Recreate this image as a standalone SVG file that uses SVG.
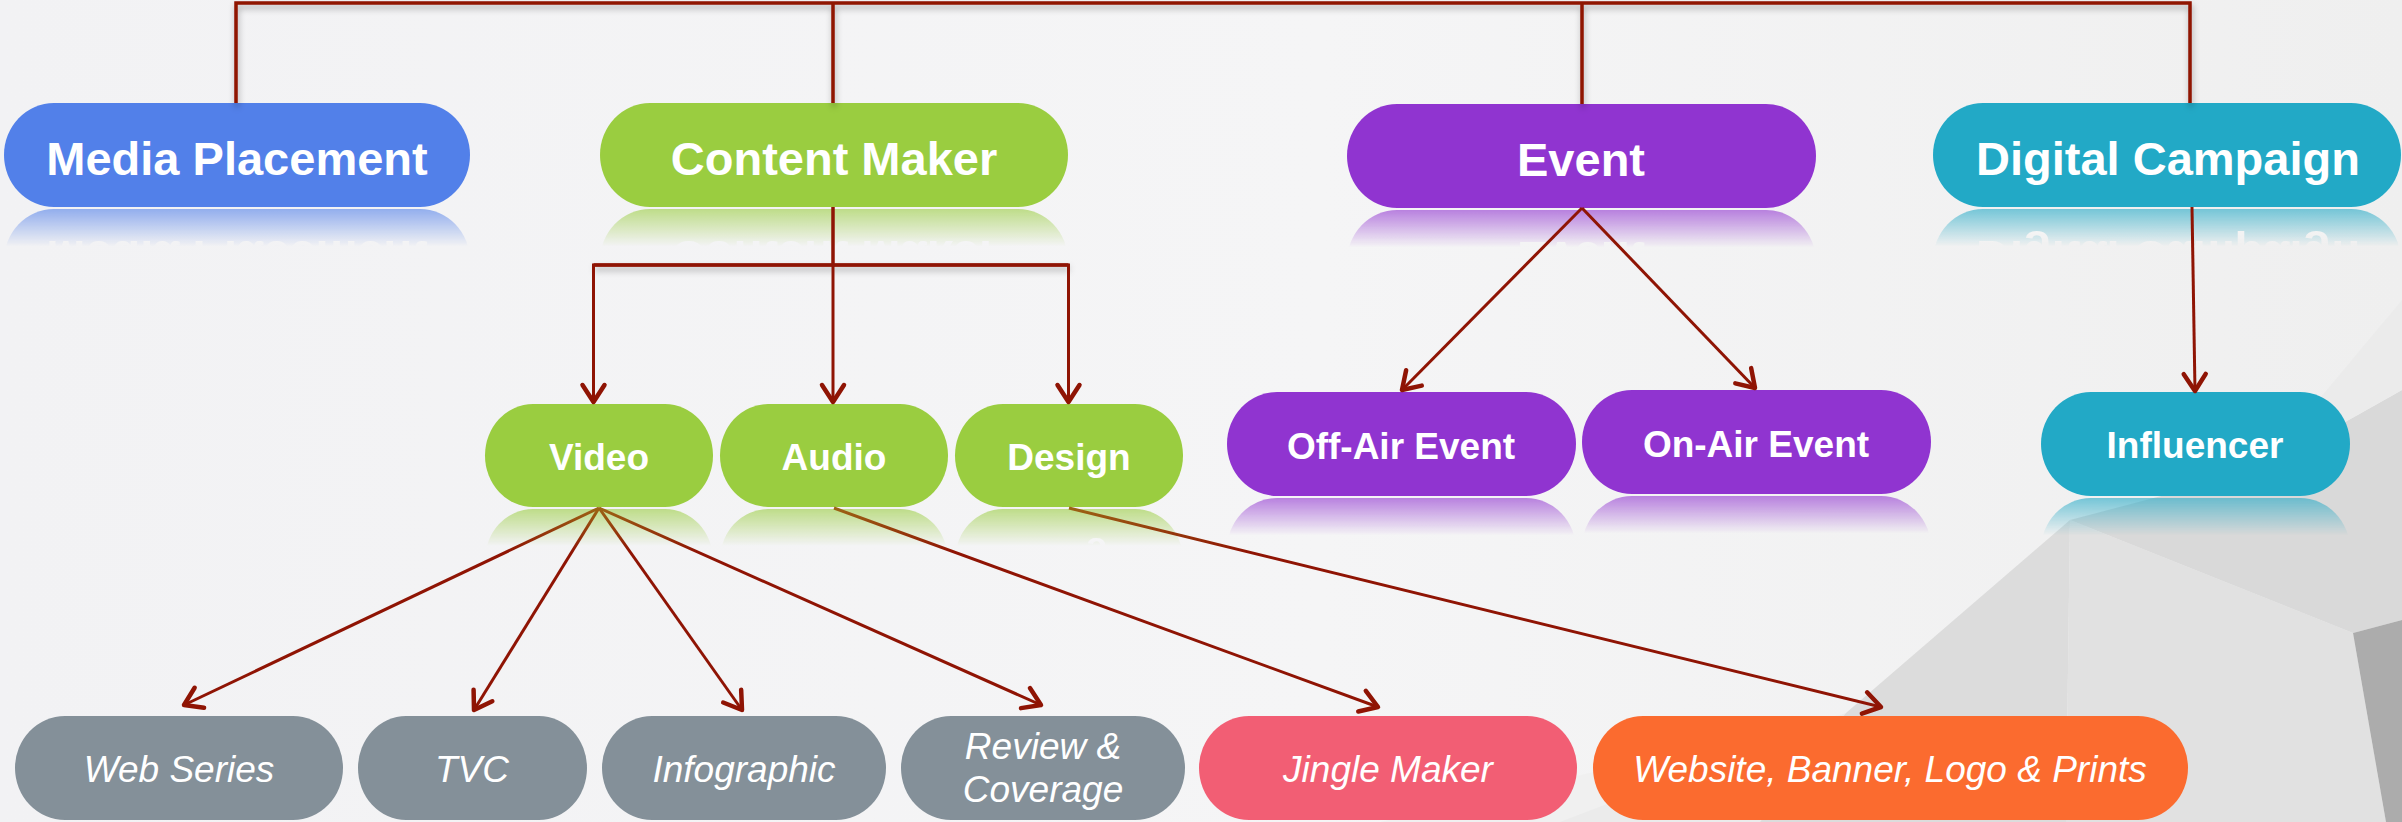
<svg xmlns="http://www.w3.org/2000/svg" xmlns:xlink="http://www.w3.org/1999/xlink" width="2402" height="822" viewBox="0 0 2402 822">
  <defs>
    <style>
      .pill-blue { fill: #5280E9; }
      .pill-green { fill: #9ACD40; }
      .pill-purple { fill: #9034D0; }
      .pill-teal { fill: #22A9C6; }
      .pill-gray { fill: #849099; }
      .pill-pink { fill: #F25E74; }
      .pill-orange { fill: #FB6B2F; }
      .t-main { font-family: "Liberation Sans", Arial, sans-serif; font-weight: bold; font-size: 47px; fill: #ffffff; text-anchor: middle; }
      .t-sub { font-family: "Liberation Sans", Arial, sans-serif; font-weight: bold; font-size: 37px; fill: #ffffff; text-anchor: middle; }
      .t-leaf { font-family: "Liberation Sans", Arial, sans-serif; font-style: italic; font-size: 37px; fill: #ffffff; text-anchor: middle; }
      .bus { fill: none; stroke: #8f1404; stroke-width: 3.5; }
      .link { fill: none; stroke: #8f1404; stroke-width: 3; marker-end: url(#arrow); }
      .link-warm { fill: none; stroke: url(#warmStroke); stroke-width: 3; marker-end: url(#arrow); }
    </style>

    <!-- open V arrowhead -->
    <marker id="arrow" markerUnits="userSpaceOnUse" markerWidth="32" markerHeight="32" viewBox="-22 -16 26 32" refX="0" refY="0" orient="auto">
      <path d="M-17,-11 L0,0 L-17,11" fill="none" stroke="#8f1404" stroke-width="4.5" stroke-linecap="round" stroke-linejoin="round"/>
    </marker>

    <!-- connectors leaving the second row are tinted where they cross the green sheen -->
    <linearGradient id="warmStroke" gradientUnits="userSpaceOnUse" x1="0" y1="508" x2="0" y2="552">
      <stop offset="0" stop-color="#9c6414"/>
      <stop offset="1" stop-color="#8f1404"/>
    </linearGradient>

    <!-- fading mirror under each pill -->
    <linearGradient id="fadeGrad" x1="0" y1="0" x2="0" y2="1">
      <stop offset="0" stop-color="#fff" stop-opacity="0.6"/>
      <stop offset="0.36" stop-color="#fff" stop-opacity="0"/>
    </linearGradient>
    <mask id="fade" maskContentUnits="objectBoundingBox">
      <rect x="0" y="0" width="1" height="1" fill="url(#fadeGrad)"/>
    </mask>

    <filter id="busShadow" x="-5%" y="-50%" width="110%" height="200%">
      <feDropShadow dx="1" dy="4" stdDeviation="3" flood-color="#000" flood-opacity="0.3"/>
    </filter>

    <linearGradient id="bgGrad" x1="0" y1="0" x2="1" y2="0">
      <stop offset="0" stop-color="#f2f2f4"/>
      <stop offset="0.55" stop-color="#f5f5f6"/>
      <stop offset="1" stop-color="#efefef"/>
    </linearGradient>
  </defs>

  <!-- backdrop with low-poly shading on the right -->
  <g id="background">
    <rect x="0" y="0" width="2402" height="822" fill="url(#bgGrad)"/>
    <polygon fill="#f0f0f0" points="1380,822 1846,713 2070,520 2402,360 2402,822"/>
    <polygon fill="#ebebeb" points="1560,822 1846,713 1760,822"/>
    <polygon fill="#dcdcdc" points="1846,713 2070,520 2066,822 1760,822"/>
    <polygon fill="#e1e1e1" points="2070,520 2353,633 2386,822 2066,822"/>
    <polygon fill="#d9d9d9" points="2070,520 2260,470 2402,390 2402,620 2353,633"/>
    <polygon fill="#ebebeb" points="2260,470 2402,300 2402,390"/>
    <polygon fill="#acacac" points="2353,633 2402,620 2402,822 2386,822"/>
  </g>

  <!-- top row -->
  <g id="node-media-placement">
    <g id="body-media-placement">
      <rect class="pill-blue" x="4" y="103" width="466" height="104" rx="50" ry="52"/>
      <text class="t-main" x="237" y="175">Media Placement</text>
    </g>
    <g mask="url(#fade)"><use xlink:href="#body-media-placement" transform="translate(0,416) scale(1,-1)"/></g>
  </g>
  <g id="node-content-maker">
    <g id="body-content-maker">
      <rect class="pill-green" x="600" y="103" width="468" height="104" rx="50" ry="52"/>
      <text class="t-main" x="834" y="175">Content Maker</text>
    </g>
    <g mask="url(#fade)"><use xlink:href="#body-content-maker" transform="translate(0,416) scale(1,-1)"/></g>
  </g>
  <g id="node-event">
    <g id="body-event">
      <rect class="pill-purple" x="1347" y="104" width="469" height="104" rx="50" ry="52"/>
      <text class="t-main" x="1581" y="176">Event</text>
    </g>
    <g mask="url(#fade)"><use xlink:href="#body-event" transform="translate(0,418) scale(1,-1)"/></g>
  </g>
  <g id="node-digital-campaign">
    <g id="body-digital-campaign">
      <rect class="pill-teal" x="1933" y="103" width="468" height="104" rx="50" ry="52"/>
      <text class="t-main" x="2168" y="175">Digital Campaign</text>
    </g>
    <g mask="url(#fade)"><use xlink:href="#body-digital-campaign" transform="translate(0,416) scale(1,-1)"/></g>
  </g>

  <!-- second row -->
  <g id="node-video">
    <g id="body-video">
      <rect class="pill-green" x="485" y="404" width="228" height="103" rx="48" ry="51.5"/>
      <text class="t-sub" x="599" y="470">Video</text>
    </g>
    <g mask="url(#fade)"><use xlink:href="#body-video" transform="translate(0,1016) scale(1,-1)"/></g>
  </g>
  <g id="node-audio">
    <g id="body-audio">
      <rect class="pill-green" x="720" y="404" width="228" height="103" rx="48" ry="51.5"/>
      <text class="t-sub" x="834" y="470">Audio</text>
    </g>
    <g mask="url(#fade)"><use xlink:href="#body-audio" transform="translate(0,1016) scale(1,-1)"/></g>
  </g>
  <g id="node-design">
    <g id="body-design">
      <rect class="pill-green" x="955" y="404" width="228" height="103" rx="48" ry="51.5"/>
      <text class="t-sub" x="1069" y="470">Design</text>
    </g>
    <g mask="url(#fade)"><use xlink:href="#body-design" transform="translate(0,1016) scale(1,-1)"/></g>
  </g>
  <g id="node-off-air-event">
    <g id="body-off-air-event">
      <rect class="pill-purple" x="1227" y="392" width="349" height="104" rx="50" ry="52"/>
      <text class="t-sub" x="1401" y="459">Off-Air Event</text>
    </g>
    <g mask="url(#fade)"><use xlink:href="#body-off-air-event" transform="translate(0,994) scale(1,-1)"/></g>
  </g>
  <g id="node-on-air-event">
    <g id="body-on-air-event">
      <rect class="pill-purple" x="1582" y="390" width="349" height="104" rx="50" ry="52"/>
      <text class="t-sub" x="1756" y="457">On-Air Event</text>
    </g>
    <g mask="url(#fade)"><use xlink:href="#body-on-air-event" transform="translate(0,990) scale(1,-1)"/></g>
  </g>
  <g id="node-influencer">
    <g id="body-influencer">
      <rect class="pill-teal" x="2041" y="392" width="309" height="104" rx="50" ry="52"/>
      <text class="t-sub" x="2195" y="458">Influencer</text>
    </g>
    <g mask="url(#fade)"><use xlink:href="#body-influencer" transform="translate(0,994) scale(1,-1)"/></g>
  </g>

  <!-- bottom row -->
  <g id="node-web-series">
    <rect class="pill-gray" x="15" y="716" width="328" height="104" rx="50" ry="52"/>
    <text class="t-leaf" x="179" y="782">Web Series</text>
  </g>
  <g id="node-tvc">
    <rect class="pill-gray" x="358" y="716" width="229" height="104" rx="48" ry="52"/>
    <text class="t-leaf" x="472" y="782">TVC</text>
  </g>
  <g id="node-infographic">
    <rect class="pill-gray" x="602" y="716" width="284" height="104" rx="50" ry="52"/>
    <text class="t-leaf" x="744" y="782">Infographic</text>
  </g>
  <g id="node-review-coverage">
    <rect class="pill-gray" x="901" y="716" width="284" height="104" rx="50" ry="52"/>
    <text class="t-leaf" x="1043" y="759">Review &amp;</text>
    <text class="t-leaf" x="1043" y="802">Coverage</text>
  </g>
  <g id="node-jingle-maker">
    <rect class="pill-pink" x="1199" y="716" width="378" height="104" rx="50" ry="52"/>
    <text class="t-leaf" x="1388" y="782">Jingle Maker</text>
  </g>
  <g id="node-website-banner">
    <rect class="pill-orange" x="1593" y="716" width="595" height="104" rx="50" ry="52"/>
    <text class="t-leaf" x="1890" y="782">Website, Banner, Logo &amp; Prints</text>
  </g>

  <!-- connectors -->
  <g id="connectors">
    <g filter="url(#busShadow)">
      <path class="bus" d="M236,103 V3 H2190 V103"/>
      <path class="bus" d="M833,3 V103"/>
      <path class="bus" d="M1582,3 V104"/>
      <path class="bus" d="M593.5,265 H1068.5"/>
    </g>
    <path class="link" d="M833,207 V265 H593.5 V402"/>
    <path class="link" d="M833,207 V402"/>
    <path class="link" d="M833,265 H1068.5 V402"/>

    <path class="link" d="M1582,208 L1402,390"/>
    <path class="link" d="M1582,208 L1755,388"/>
    <path class="link" d="M2192,207 L2195,391"/>

    <path class="link-warm" d="M599,508 L184,705"/>
    <path class="link-warm" d="M599,508 L474,710"/>
    <path class="link-warm" d="M599,508 L742,710"/>
    <path class="link-warm" d="M599,508 L1041,705"/>
    <path class="link-warm" d="M834,508 L1378,707"/>
    <path class="link-warm" d="M1069,508 L1881,707"/>
  </g>
</svg>
